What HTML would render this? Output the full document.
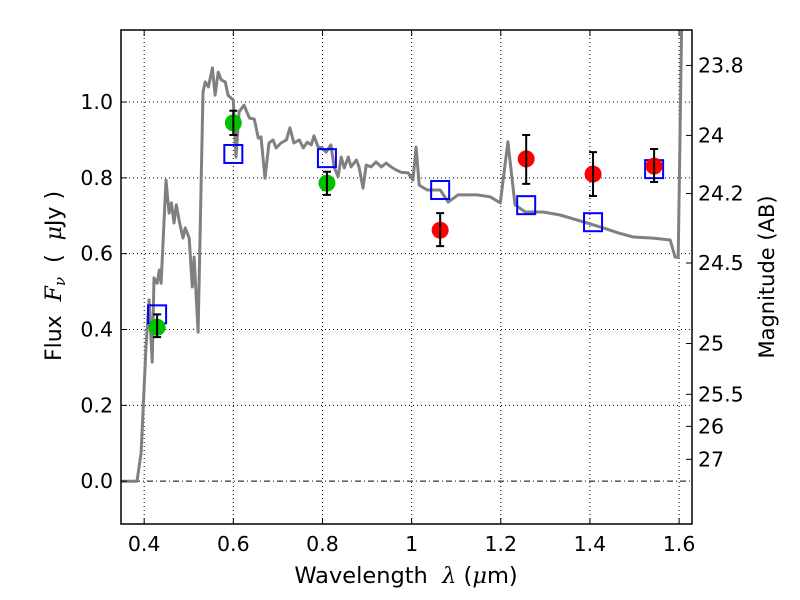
<!DOCTYPE html>
<html><head><meta charset="utf-8"><style>
body{margin:0;background:#fff}
svg{display:block;font-family:"DejaVu Sans","Liberation Sans",sans-serif}
</style></head><body>
<svg id="chart" width="800" height="600" viewBox="0 0 800 600" xmlns="http://www.w3.org/2000/svg">
<rect width="800" height="600" fill="#fff"/>
<g id="grid"></g>
<g id="plot"></g>
<rect x="121" y="30" width="571" height="494" fill="none" stroke="#000" stroke-width="1.5"/>
<g id="ticks"></g>
<text x="406" y="583" font-size="22.5" text-anchor="middle" xml:space="preserve">Wavelength  <tspan font-family="DejaVu Serif" font-style="italic">λ</tspan> (<tspan font-family="DejaVu Serif" font-style="italic">μ</tspan>m)</text>
<text transform="translate(61,276) rotate(-90)" font-size="22" text-anchor="middle" xml:space="preserve">Flux  <tspan font-family="DejaVu Serif" font-style="italic">F<tspan font-size="15" dy="4">ν</tspan></tspan><tspan dy="-4">  (  </tspan><tspan font-family="DejaVu Serif" font-style="italic">μ</tspan>Jy )</text>
<text transform="translate(774,277) rotate(-90)" font-size="21" text-anchor="middle">Magnitude (AB)</text>
</svg>
<script>
const specLam=[0.348,0.384,0.393,0.404,0.411,0.418,0.422,0.429,0.434,0.438,0.449,0.456,0.461,0.467,0.472,0.479,0.487,0.492,0.501,0.508,0.512,0.521,0.528,0.532,0.537,0.544,0.553,0.559,0.566,0.573,0.582,0.588,0.600,0.606,0.613,0.624,0.636,0.647,0.656,0.662,0.671,0.680,0.689,0.696,0.707,0.719,0.727,0.736,0.748,0.757,0.766,0.775,0.781,0.790,0.799,0.808,0.819,0.826,0.835,0.842,0.849,0.858,0.864,0.876,0.882,0.891,0.898,0.909,0.920,0.932,0.943,0.954,0.965,0.976,0.992,1.003,1.010,1.017,1.035,1.064,1.082,1.104,1.125,1.147,1.176,1.199,1.216,1.232,1.255,1.295,1.333,1.394,1.430,1.463,1.497,1.542,1.580,1.591,1.598,1.607];
const specFlux=[0,0,0.074,0.354,0.478,0.314,0.536,0.522,0.557,0.522,0.794,0.707,0.734,0.681,0.729,0.684,0.641,0.668,0.641,0.512,0.591,0.393,0.794,1.026,1.053,1.040,1.090,1.018,1.079,1.058,1.053,1.018,1.005,0.855,0.974,0.992,0.958,0.955,0.905,0.908,0.799,0.892,0.900,0.879,0.892,0.900,0.932,0.892,0.900,0.879,0.894,0.887,0.911,0.882,0.879,0.868,0.887,0.829,0.803,0.855,0.826,0.855,0.829,0.847,0.829,0.773,0.834,0.829,0.842,0.829,0.839,0.829,0.821,0.815,0.813,0.794,0.881,0.781,0.768,0.768,0.736,0.755,0.755,0.755,0.750,0.734,0.895,0.729,0.710,0.710,0.702,0.681,0.668,0.655,0.644,0.641,0.636,0.591,0.591,1.30];
const greenLam=[0.429,0.600,0.810];
const greenFlux=[0.406,0.945,0.786];
const greenLo=[0.38,0.913,0.755];
const greenHi=[0.44,0.977,0.816];
const redLam=[1.064,1.257,1.407,1.544];
const redFlux=[0.662,0.850,0.810,0.831];
const redLo=[0.620,0.784,0.752,0.789];
const redHi=[0.707,0.913,0.868,0.876];
const modelLam=[0.429,0.600,0.810,1.064,1.257,1.407,1.544];
const modelFlux=[0.44,0.863,0.852,0.768,0.728,0.683,0.823];
const xTicks=[0.4,0.6,0.8,1.0,1.2,1.4,1.6];
const xTickLabels=["0.4","0.6","0.8","1","1.2","1.4","1.6"];
const yTicks=[0,0.2,0.4,0.6,0.8,1.0];
const yTickLabels=["0.0","0.2","0.4","0.6","0.8","1.0"];
const magTicks=[23.8,24,24.2,24.5,25,25.5,26,27];
const magTickLabels=["23.8","24","24.2","24.5","25","25.5","26","27"];

const L=121,R=692,T=30,B=524,X0=0.348,X1=1.629,Y0=-0.113,Y1=1.19;
const sx=v=>L+(v-X0)/(X1-X0)*(R-L);
const sy=v=>B-(v-Y0)/(Y1-Y0)*(B-T);
const NS="http://www.w3.org/2000/svg";
function mk(tag,attrs,parent){const e=document.createElementNS(NS,tag);for(const k in attrs)e.setAttribute(k,attrs[k]);parent.appendChild(e);return e;}
const grid=document.getElementById('grid'),plot=document.getElementById('plot'),ticks=document.getElementById('ticks');

xTicks.forEach((v,i)=>{
  const g=mk('line',{x1:sx(v),x2:sx(v),y1:T,y2:B,stroke:'#000','stroke-width':1,'stroke-dasharray':'1,3'},grid);
  
  
  const t=mk('line',{x1:sx(v),x2:sx(v),y1:B,y2:B-6,stroke:'#000','stroke-width':1},ticks);
  
  
  const t2=mk('line',{x1:sx(v),x2:sx(v),y1:T,y2:T+6,stroke:'#000','stroke-width':1},ticks);
  
  
  const l=mk('text',{x:sx(v),y:B+27,'font-size':20.5,'text-anchor':'middle'},ticks);
  l.textContent=xTickLabels[i];
  
  
});
yTicks.forEach((v,i)=>{
  const g=mk('line',{x1:L,x2:R,y1:sy(v),y2:sy(v),stroke:'#000','stroke-width':1,'stroke-dasharray':v===0?'6,3,1,3':'1,3'},grid);
  
  
  const t=mk('line',{x1:L,x2:L+6,y1:sy(v),y2:sy(v),stroke:'#000','stroke-width':1},ticks);
  
  
  const l=mk('text',{x:L-8,y:sy(v)+7,'font-size':20.5,'text-anchor':'end'},ticks);
  l.textContent=yTickLabels[i];
  
  
});
magTicks.forEach((m,i)=>{
  const f=Math.pow(10,(23.9-m)/2.5);
  const y=sy(f);
  const t=mk('line',{x1:R,x2:R-6,y1:y,y2:y,stroke:'#000','stroke-width':1},ticks);
  
  
  const l=mk('text',{x:R+6,y:y+7,'font-size':20.5,'text-anchor':'start'},ticks);
  l.textContent=magTickLabels[i];
  
  
});

const clip=mk('clipPath',{id:'clp'},plot);
mk('rect',{x:L,y:T,width:R-L,height:B-T},clip);
const inner=mk('g',{'clip-path':'url(#clp)'},plot);
const pts=specLam.map((v,i)=>sx(v).toFixed(1)+','+sy(specFlux[i]).toFixed(1)).join(' ');
const sp=mk('polyline',{points:pts,fill:'none',stroke:'#808080','stroke-width':3,'stroke-linejoin':'round'},inner);



modelLam.forEach((v,i)=>{
  const r=mk('rect',{x:sx(v)-9,y:sy(modelFlux[i])-9,width:18,height:18,fill:'none',stroke:'#0000ff','stroke-width':2},inner);
  
  
});
function pt(lam,fl,lo,hi,col,name){
  lam.forEach((v,i)=>{
    const c=mk('circle',{cx:sx(v),cy:sy(fl[i]),r:8.5,fill:col},inner);
    
    
    const x=sx(v);
    const e=mk('path',{d:`M${x},${sy(lo[i])}V${sy(hi[i])}M${x-4},${sy(lo[i])}H${x+4}M${x-4},${sy(hi[i])}H${x+4}`,stroke:'#000','stroke-width':2,fill:'none'},inner);
    
    
  });
}
pt(greenLam,greenFlux,greenLo,greenHi,'#00c000','optical-point');
pt(redLam,redFlux,redLo,redHi,'#ff0000','nir-point');
</script>
</body></html>
